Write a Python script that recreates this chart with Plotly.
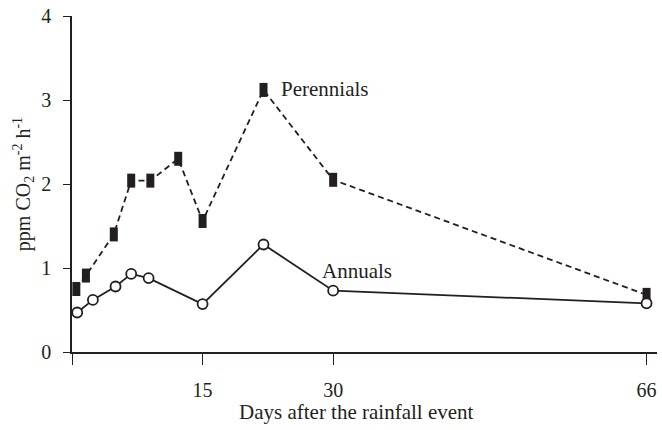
import plotly.graph_objects as go

# ---- data ----
per_days = [0.5, 1.6, 4.8, 6.8, 9.0, 12.2, 15.0, 22.0, 30.0, 66.0]
per_vals = [0.75, 0.91, 1.40, 2.04, 2.04, 2.30, 1.56, 3.12, 2.05, 0.68]
ann_days = [0.6, 2.4, 5.0, 6.8, 8.8, 15.0, 22.0, 30.0, 66.0]
ann_vals = [0.47, 0.62, 0.78, 0.93, 0.88, 0.57, 1.28, 0.73, 0.58]
x_ticks = [0, 15, 30, 66]
x_ticktext = ["", "15", "30", "66"]
y_ticks = [0, 1, 2, 3, 4]

INK = "#231f20"
FONT = "Liberation Serif, Times New Roman, serif"

fig = go.Figure()
fig.add_trace(go.Scatter(
    x=per_days, y=per_vals, mode="lines+markers", name="Perennials",
    line=dict(color=INK, width=1.8, dash="6px,4px"),
    marker=dict(symbol="line-ns", size=10, color=INK,
                line=dict(color=INK, width=8)),
    showlegend=False, cliponaxis=False,
))
fig.add_trace(go.Scatter(
    x=ann_days, y=ann_vals, mode="lines+markers", name="Annuals",
    line=dict(color=INK, width=1.8),
    marker=dict(symbol="circle", size=10, color="white",
                line=dict(color=INK, width=1.8)),
    showlegend=False, cliponaxis=False,
))

fig.add_annotation(x=23.8, y=3.13, text="Perennials", showarrow=False,
                   xanchor="left", yanchor="middle",
                   font=dict(family=FONT, size=21, color=INK))
fig.add_annotation(x=28.5, y=0.97, text="Annuals", showarrow=False,
                   xanchor="left", yanchor="middle",
                   font=dict(family=FONT, size=21, color=INK))
# x-axis title
fig.add_annotation(x=0.487, y=-0.178, xref="paper", yref="paper",
                   text="Days after the rainfall event", showarrow=False,
                   xanchor="center", yanchor="middle",
                   font=dict(family=FONT, size=21, color=INK))

fig.update_layout(
    width=662, height=430,
    margin=dict(l=72, r=5, t=12, b=78),
    paper_bgcolor="white", plot_bgcolor="white",
    font=dict(family=FONT, size=20, color=INK),
    xaxis=dict(
        range=[0, 67.2], tickvals=x_ticks, ticktext=x_ticktext,
        showgrid=False, zeroline=False, showline=True, linecolor=INK,
        linewidth=1.5, ticks="outside", ticklen=11, tickwidth=1.2,
        tickcolor=INK, ticklabelstandoff=8,
        tickfont=dict(family=FONT, size=20, color=INK),
    ),
    yaxis=dict(
        range=[0, 4], tickvals=y_ticks,
        showgrid=False, zeroline=False, showline=True, linecolor=INK,
        linewidth=1.5, ticks="outside", ticklen=7, tickwidth=1.2,
        tickcolor=INK, ticklabelstandoff=8,
        tickfont=dict(family=FONT, size=20, color=INK),
        title=dict(text="ppm CO<sub>2</sub> m<sup>-2</sup> h<sup>-1</sup>",
                   font=dict(family=FONT, size=20, color=INK), standoff=5),
    ),
)

fig.write_html("out.html", config={"displayModeBar": False},
               post_script="document.body.style.margin='0';")
